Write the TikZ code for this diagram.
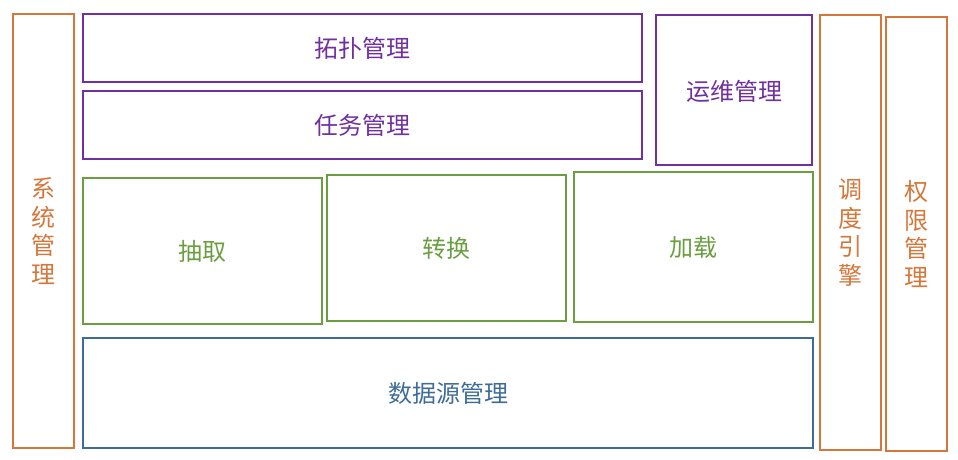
\documentclass[tikz,border=0pt]{standalone}
\usepackage{fontspec}
\newfontfamily\cjk{Noto Sans CJK SC}
\usetikzlibrary{fit}
\definecolor{cor}{HTML}{D5763A}
\definecolor{cpu}{HTML}{7030A0}
\definecolor{cgr}{HTML}{6A9E40}
\definecolor{cbl}{HTML}{3F6C97}
\tikzset{
  box/.style={draw, line width=1.5pt, inner sep=0pt},
  lbl/.style={inner sep=0pt, align=center, font=\cjk\fontsize{24}{28.5}\selectfont},
  obox/.style={box, draw=cor},
  pbox/.style={box, draw=cpu},
  gbox/.style={box, draw=cgr},
  bbox/.style={box, draw=cbl},
}
\begin{document}
\begin{tikzpicture}[x=1pt,y=-1pt]
\useasboundingbox (0,0) rectangle (958,459);
\node[obox, fit={(13,14) (74,448)}] (sys) {};
\node[pbox, fit={(83,14) (642,82)}] (topo) {};
\node[pbox, fit={(83,91) (642,159)}] (task) {};
\node[pbox, fit={(656,15) (812,165)}] (ops) {};
\node[obox, fit={(820,15) (881,450)}] (sched) {};
\node[obox, fit={(886,17) (947,451)}] (perm) {};
\node[gbox, fit={(83,178) (322,324)}] (ext) {};
\node[gbox, fit={(327,175) (566,321)}] (trans) {};
\node[gbox, fit={(574,172) (813,322)}] (load) {};
\node[bbox, fit={(83,338) (813,448)}] (ds) {};
\node[lbl, text=cor] (sysl) at (sys.center) {系\\统\\管\\理};
\node[lbl, text=cpu] (topol) at (topo.center) {拓扑管理};
\node[lbl, text=cpu] (taskl) at (task.center) {任务管理};
\node[lbl, text=cpu] (opsl) at ([yshift=-1pt]ops.center) {运维管理};
\node[lbl, text=cor] (schedl) at (sched.center) {调\\度\\引\\擎};
\node[lbl, text=cor] (perml) at (perm.center) {权\\限\\管\\理};
\node[lbl, text=cgr] (extl) at (ext.center) {抽取};
\node[lbl, text=cgr] (transl) at (trans.center) {转换};
\node[lbl, text=cgr] (loadl) at (load.center) {加载};
\node[lbl, text=cbl] (dsl) at (ds.center) {数据源管理};
\end{tikzpicture}
\end{document}
